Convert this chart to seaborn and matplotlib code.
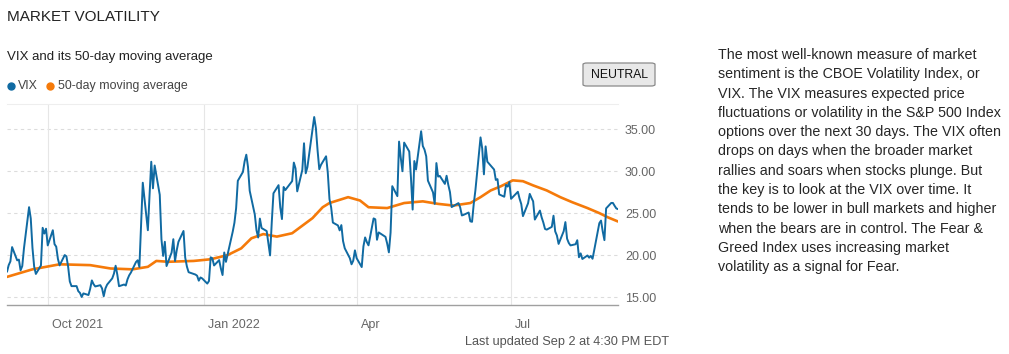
import matplotlib
matplotlib.use("Agg")
import matplotlib.pyplot as plt
import matplotlib.transforms as mtransforms
from matplotlib.lines import Line2D
from matplotlib.patches import FancyBboxPatch
import seaborn as sns
import pandas as pd

# ---------------- data ----------------
holidays = ["2021-11-25", "2021-12-24", "2022-01-17", "2022-02-21",
            "2022-04-15", "2022-05-30", "2022-06-20", "2022-07-04"]
start_date = "2021-09-07"
end_date = "2022-09-02"

vix_sep21 = [18.01, 18.80, 19.25, 20.95, 19.37, 19.46, 18.18, 18.69, 20.81, 25.71,
             24.36, 20.87, 18.63, 17.75, 18.76, 23.25, 22.56, 23.14]
vix_oct21 = [21.15, 22.96, 21.30, 21.00, 19.54, 18.77, 20.00, 19.85, 18.64, 16.86,
             16.30, 16.30, 15.70, 15.49, 15.01, 15.43, 15.24, 15.98, 16.98, 16.53, 16.26]
vix_nov21 = [16.41, 16.03, 15.10, 16.03, 16.48, 17.22, 17.78, 18.73, 17.66, 16.29,
             16.49, 16.37, 17.11, 17.59, 17.91, 19.17, 19.38, 18.58, 28.62, 22.96, 27.19]
vix_dec21 = [31.12, 27.95, 30.67, 27.18, 21.89, 19.90, 21.58, 18.69, 20.31, 21.89,
             19.29, 20.57, 21.57, 22.87, 19.70, 18.63, 17.96, 17.68, 17.54, 16.95, 17.33, 17.22]
vix_jan22 = [16.60, 16.91, 19.73, 19.61, 18.76, 19.40, 18.41, 17.62, 20.31, 19.19,
             22.79, 23.85, 25.59, 28.85, 29.90, 31.16, 31.96, 30.49, 27.66, 24.83]
vix_feb22 = [22.96, 22.09, 24.35, 23.22, 22.86, 21.44, 19.96, 23.91, 27.36, 28.33,
             25.70, 24.29, 28.11, 27.75, 28.81, 31.02, 30.32, 27.59, 30.15]
vix_mar22 = [33.32, 29.74, 30.48, 31.98, 36.45, 35.13, 32.45, 30.23, 30.75, 31.77,
             29.83, 26.67, 25.67, 23.87, 23.53, 22.94, 23.57, 21.67, 20.81, 19.63,
             18.90, 19.33, 20.56]
vix_apr22 = [19.63, 18.57, 21.03, 22.10, 21.55, 21.16, 24.37, 24.26, 21.82, 22.70,
             22.17, 21.37, 20.32, 22.68, 28.21, 27.02, 33.52, 31.60, 29.99, 33.40]
vix_may22 = [32.34, 29.25, 25.42, 31.20, 30.19, 34.75, 32.99, 32.56, 31.77, 28.87,
             27.47, 26.10, 30.96, 29.35, 29.43, 28.48, 29.45, 28.37, 27.50, 25.72, 26.19]
vix_jun22 = [25.69, 24.72, 24.79, 25.07, 24.02, 23.96, 26.09, 27.75, 34.02, 32.69,
             29.62, 32.95, 31.13, 30.19, 28.95, 29.05, 27.23, 26.95, 28.36, 28.16, 28.71]
vix_jul22 = [26.70, 27.54, 26.73, 26.08, 24.64, 26.17, 27.29, 26.82, 26.40, 24.23,
             25.30, 24.50, 23.88, 23.11, 23.03, 23.36, 24.69, 22.82, 22.33, 21.33]
vix_aug22 = [22.84, 23.93, 21.95, 21.44, 21.15, 21.29, 21.77, 19.74, 20.20, 19.53,
             19.95, 19.69, 19.90, 19.56, 20.60, 23.80, 24.11, 22.82, 21.78, 25.56,
             26.21, 26.21, 25.87]
vix_sep22 = [25.56, 25.47]

ma_dates = ["2021-09-07", "2021-09-22", "2021-10-08", "2021-10-26", "2021-11-07",
            "2021-11-20", "2021-11-29", "2021-12-04", "2021-12-11", "2021-12-26",
            "2022-01-05", "2022-01-15", "2022-01-23", "2022-01-29", "2022-02-05",
            "2022-02-13", "2022-02-22", "2022-02-28", "2022-03-06", "2022-03-12",
            "2022-03-16", "2022-03-27", "2022-04-03", "2022-04-08", "2022-04-19",
            "2022-04-29", "2022-05-10", "2022-05-19", "2022-05-28", "2022-06-07",
            "2022-06-13", "2022-06-19", "2022-06-25", "2022-07-02", "2022-07-08",
            "2022-07-14", "2022-07-22", "2022-07-30", "2022-08-06", "2022-08-15",
            "2022-08-22", "2022-08-27", "2022-09-02"]
ma_values = [17.4, 18.3, 18.9, 18.8, 18.4,
             18.3, 18.6, 19.3, 19.2, 19.3,
             19.5, 20.0, 20.8, 22.0, 22.5,
             22.2, 22.6, 23.5, 24.4, 25.7,
             26.2, 26.9, 26.5, 25.7, 25.6,
             26.2, 26.4, 26.1, 25.9, 26.2,
             26.9, 27.7, 28.2, 28.9, 28.8,
             28.3, 27.7, 26.9, 26.3, 25.6,
             25.0, 24.5, 24.0]

month_ticks = ["2021-10-01", "2022-01-01", "2022-04-01", "2022-07-01"]
month_labels = ["Oct 2021", "Jan 2022", "Apr", "Jul"]
y_ticks = [15, 20, 25, 30, 35]

description = [
    "The most well-known measure of market",
    "sentiment is the CBOE Volatility Index, or",
    "VIX. The VIX measures expected price",
    "fluctuations or volatility in the S&P 500 Index",
    "options over the next 30 days. The VIX often",
    "drops on days when the broader market",
    "rallies and soars when stocks plunge. But",
    "the key is to look at the VIX over time. It",
    "tends to be lower in bull markets and higher",
    "when the bears are in control. The Fear &",
    "Greed Index uses increasing market",
    "volatility as a signal for Fear.",
]

# ---------------- build frames ----------------
vix_values = (vix_sep21 + vix_oct21 + vix_nov21 + vix_dec21 + vix_jan22 + vix_feb22 +
              vix_mar22 + vix_apr22 + vix_may22 + vix_jun22 + vix_jul22 + vix_aug22 + vix_sep22)
vix_dates = pd.bdate_range(start_date, end_date, freq="C", holidays=holidays)
assert len(vix_dates) == len(vix_values), (len(vix_dates), len(vix_values))
vix_df = pd.DataFrame({"date": vix_dates, "value": vix_values})
ma_df = pd.DataFrame({"date": pd.to_datetime(ma_dates), "value": ma_values})

# ---------------- figure ----------------
sns.set_theme(style="white")
plt.rcParams["font.family"] = ["Liberation Sans", "DejaVu Sans"]

W, H = 1009, 354
fig = plt.figure(figsize=(W / 100, H / 100), dpi=100)
fig.patch.set_facecolor("white")

def fx(px):
    return px / W

def fy(py):
    return 1 - py / H

ax = fig.add_axes([fx(7), fy(305), fx(618) - fx(7), fy(104) - fy(305)])

BLUE = "#106aa2"
ORANGE = "#f57a0a"

sns.lineplot(data=ma_df, x="date", y="value", ax=ax, color=ORANGE, linewidth=1.9)
sns.lineplot(data=vix_df, x="date", y="value", ax=ax, color=BLUE, linewidth=1.4)

ax.set_xlim(pd.Timestamp(start_date), pd.Timestamp(end_date))
ax.set_ylim(14.05, 38.0)
ax.set_xlabel("")
ax.set_ylabel("")

# y axis on right
ax.yaxis.tick_right()
ax.set_yticks(y_ticks)
ax.set_yticklabels([f"{v:.2f}" for v in y_ticks])
ax.tick_params(axis="y", length=0, pad=5, labelsize=9.0, labelcolor="#666666")
for v in y_ticks:
    ax.axhline(v, color="#dcdcdc", linewidth=0.8, linestyle=(0, (3, 3)), zorder=0)

# x axis
ax.set_xticks(pd.to_datetime(month_ticks))
ax.set_xticklabels(month_labels)
ax.tick_params(axis="x", length=8, width=0.8, color="#e6e6e6", pad=2,
               labelsize=9.0, labelcolor="#666666")
offset = mtransforms.ScaledTranslation(4 / 100, 0, fig.dpi_scale_trans)
for lab in ax.get_xticklabels():
    lab.set_horizontalalignment("left")
    lab.set_transform(lab.get_transform() + offset)
for d in month_ticks:
    ax.axvline(pd.Timestamp(d), color="#e6e6e6", linewidth=0.8, zorder=0)

for side in ["left", "right"]:
    ax.spines[side].set_visible(False)
ax.spines["top"].set_color("#eeeeee")
ax.spines["top"].set_linewidth(0.8)
ax.spines["bottom"].set_color("#a0a0a0")
ax.spines["bottom"].set_linewidth(1.0)
ax.grid(False)

# ---------------- texts ----------------
fig.text(fx(7), fy(17), "MARKET VOLATILITY", fontsize=11.0, color="#222222",
         ha="left", va="center", fontweight="medium")
fig.text(fx(7), fy(57), "VIX and its 50-day moving average", fontsize=9.5,
         color="#222222", ha="left", va="center")

# legend
fig.add_artist(Line2D([fx(11)], [fy(86)], marker="o", markersize=5.0, color=BLUE,
                      linestyle="", transform=fig.transFigure))
fig.text(fx(18), fy(86), "VIX", fontsize=8.9, color="#444444", ha="left", va="center")
fig.add_artist(Line2D([fx(50)], [fy(86)], marker="o", markersize=5.0, color=ORANGE,
                      linestyle="", transform=fig.transFigure))
fig.text(fx(58), fy(86), "50-day moving average", fontsize=8.9, color="#444444",
         ha="left", va="center")

# NEUTRAL badge
badge = FancyBboxPatch((fx(583), fy(86)), fx(655) - fx(583), fy(63) - fy(86),
                       boxstyle="round,pad=0,rounding_size=0.004",
                       transform=fig.transFigure, facecolor="#e8e8e8",
                       edgecolor="#8a8a8a", linewidth=0.9)
fig.add_artist(badge)
fig.text(fx(619), fy(75), "NEUTRAL", fontsize=8.8, color="#111111",
         ha="center", va="center")

fig.text(fx(567), fy(342), "Last updated Sep 2 at 4:30 PM EDT", fontsize=9.2,
         color="#555555", ha="center", va="center")

for i, line in enumerate(description):
    fig.text(fx(718), fy(55 + i * 19.3), line, fontsize=10.3, color="#262626",
             ha="left", va="center")

fig.savefig("out.png", dpi=100, facecolor="white")
